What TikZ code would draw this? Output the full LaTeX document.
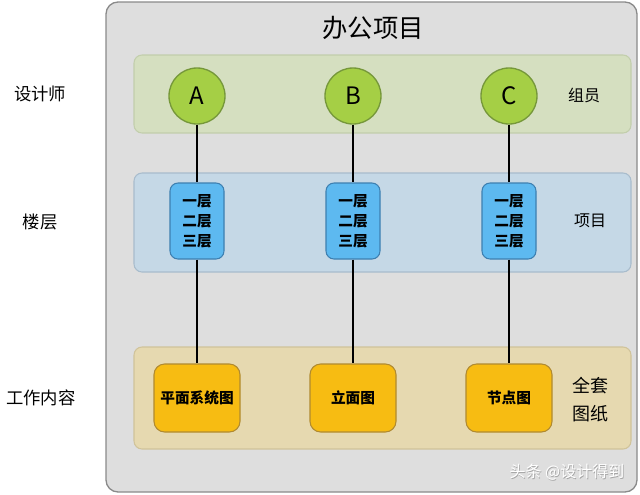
\documentclass[tikz,border=0pt]{standalone}
\usepackage{fontspec}
\newfontfamily\cjk{Noto Sans CJK SC}
\usepackage{tikz}

\definecolor{panelgray}{RGB}{222,222,222}
\definecolor{panelline}{RGB}{138,138,138}
\definecolor{bandgreen}{RGB}{213,223,192}
\definecolor{bandgreenline}{RGB}{194,206,172}
\definecolor{circgreen}{RGB}{165,207,69}
\definecolor{circgreenline}{RGB}{118,152,58}
\definecolor{bandblue}{RGB}{197,216,230}
\definecolor{bandblueline}{RGB}{168,188,204}
\definecolor{boxblue}{RGB}{93,185,240}
\definecolor{boxblueline}{RGB}{61,127,176}
\definecolor{bandtan}{RGB}{230,217,176}
\definecolor{bandtanline}{RGB}{208,195,154}
\definecolor{boxorange}{RGB}{247,188,18}
\definecolor{boxorangeline}{RGB}{176,138,48}

\tikzset{
  band/.style={rounded corners=6, line width=0.8},
  member/.style={circle, draw=circgreenline, fill=circgreen, line width=1, minimum size=42pt, inner sep=0pt, font=\cjk\fontsize{18}{18}\selectfont},
  floorbox/.style={rectangle, rounded corners=6, draw=boxblueline, fill=boxblue, line width=0.8, minimum width=40.5pt, minimum height=57pt, inner sep=0pt, align=center, font=\cjk\bfseries\fontsize{11}{15}\selectfont},
  drawingbox/.style={rectangle, rounded corners=8, draw=boxorangeline, fill=boxorange, line width=0.8, minimum width=64.5pt, minimum height=51pt, inner sep=0pt, font=\cjk\bfseries\fontsize{11}{11}\selectfont},
  rowlabel/.style={inner sep=0.75pt, font=\cjk\fontsize{13}{13}\selectfont},
  sidelabel/.style={inner sep=0.75pt, align=center, font=\cjk\fontsize{12}{17}\selectfont},
  link/.style={line width=0.9, black}
}

\begin{document}
\begin{tikzpicture}[x=0.75pt,y=0.75pt,yscale=-1]
\useasboundingbox (0,0) rectangle (640,494);

%Shape: Panel
\draw [draw=panelline, fill=panelgray, line width=1, rounded corners=9] (106,2) rectangle (637,492);
%Shape: Bands
\draw [band, draw=bandgreenline, fill=bandgreen] (134,55) rectangle (631,133);
\draw [band, draw=bandblueline, fill=bandblue] (134,173) rectangle (631,272);
\draw [band, draw=bandtanline, fill=bandtan] (134,347) rectangle (631,449);

% Title
\draw (373,28) node [font=\cjk\fontsize{19}{19}\selectfont] (title) {办公项目};

% Members
\node [member] (memA) at (197,96) {A};
\node [member] (memB) at (353,96) {B};
\node [member] (memC) at (509,96) {C};

% Floors
\node [floorbox] (flrA) at (197,221) {一层\\二层\\三层};
\node [floorbox] (flrB) at (353,221) {一层\\二层\\三层};
\node [floorbox] (flrC) at (509,221) {一层\\二层\\三层};

% Drawings
\node [drawingbox] (drwA) at (197,398) {平面系统图};
\node [drawingbox] (drwB) at (353,398) {立面图};
\node [drawingbox] (drwC) at (509,398) {节点图};

%Straight Lines
\foreach \c in {A,B,C} {
  \draw [link] (mem\c) -- (flr\c);
  \draw [link] (flr\c) -- (drw\c);
}

% Text Node
\node [rowlabel] (lblDesigner) at (40,94) {设计师};
\node [rowlabel] (lblFloor) at (40,222) {楼层};
\node [rowlabel] (lblWork) at (41,398) {工作内容};
\node [sidelabel, font=\cjk\fontsize{12}{12}\selectfont] (lblMember) at (584,95) {组员};
\node [sidelabel, font=\cjk\fontsize{12}{12}\selectfont] (lblProject) at (590,221) {项目};
\node [sidelabel, font=\cjk\fontsize{13.5}{21}\selectfont] (lblSet) at (590,400) {全套\\图纸};

% Watermark
\node [font=\cjk\fontsize{12}{12}\selectfont, text=gray!70] (markshadow) at (567.7,472.7) {头条 @设计得到};
\node [font=\cjk\fontsize{12}{12}\selectfont, text=white] (mark) at (567,472) {头条 @设计得到};

\end{tikzpicture}
\end{document}
